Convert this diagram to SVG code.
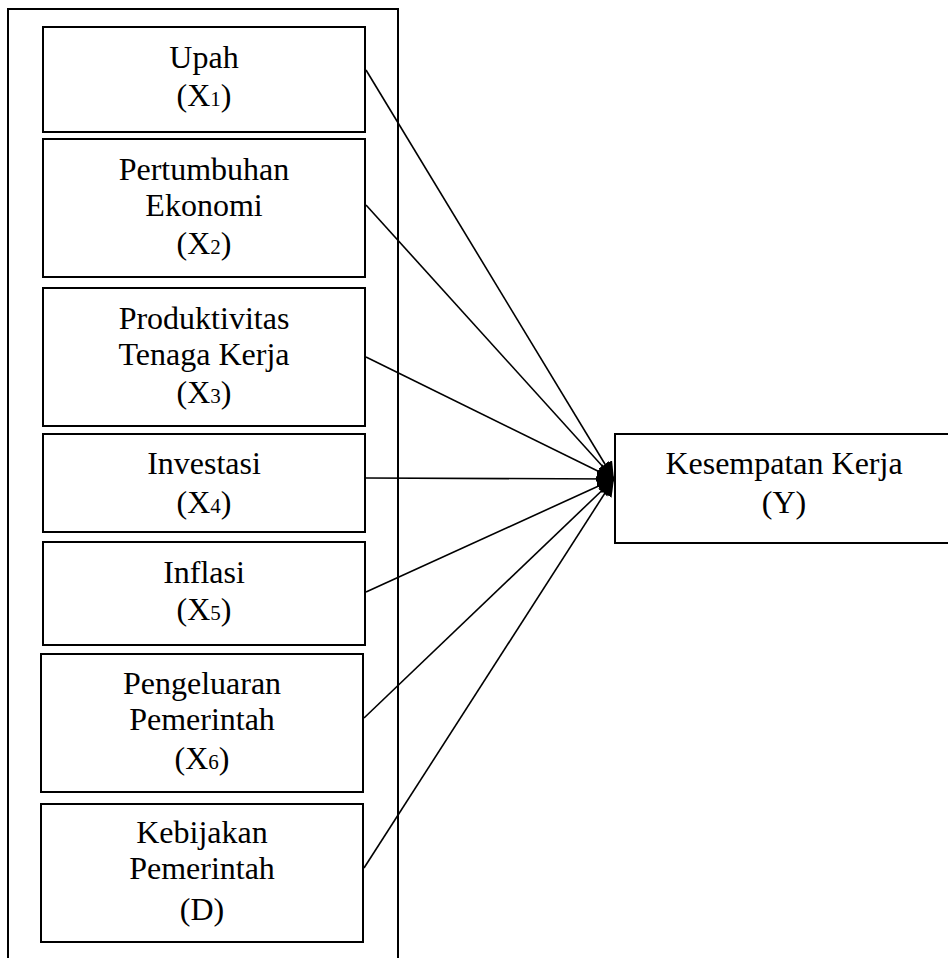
<svg xmlns="http://www.w3.org/2000/svg" width="948" height="958" viewBox="0 0 948 958">
<style>
.box{fill:#fff;stroke:#000;stroke-width:2}
.t{font-family:"Liberation Serif","Times New Roman",serif;font-size:32px;fill:#000;text-anchor:middle}
.s{font-size:21px}
.c{stroke:#000;stroke-width:1.6;fill:none;marker-end:url(#ah)}
</style>
<defs>
<marker id="ah" markerUnits="userSpaceOnUse" markerWidth="22" markerHeight="20" refX="17" refY="8" orient="auto">
<path d="M0,0 L17,8 L0,16 Z" fill="#000"/>
</marker>
</defs>
<rect x="8" y="9" width="390" height="970" fill="#fff" stroke="#000" stroke-width="2"/>
<g id="upah">
<rect class="box" x="43" y="27" width="322" height="105"/>
<text class="t" x="204" y="68">Upah</text>
<text class="t" x="204" y="106">(X<tspan class="s">1</tspan>)</text>
</g>
<g id="pertumbuhan">
<rect class="box" x="43" y="139" width="322" height="138"/>
<text class="t" x="204" y="180">Pertumbuhan</text>
<text class="t" x="204" y="216">Ekonomi</text>
<text class="t" x="204" y="254">(X<tspan class="s">2</tspan>)</text>
</g>
<g id="produktivitas">
<rect class="box" x="43" y="288" width="322" height="138"/>
<text class="t" x="204" y="329">Produktivitas</text>
<text class="t" x="204" y="365">Tenaga Kerja</text>
<text class="t" x="204" y="403">(X<tspan class="s">3</tspan>)</text>
</g>
<g id="investasi">
<rect class="box" x="43" y="434" width="322" height="98"/>
<text class="t" x="204" y="474">Investasi</text>
<text class="t" x="204" y="513">(X<tspan class="s">4</tspan>)</text>
</g>
<g id="inflasi">
<rect class="box" x="43" y="542" width="322" height="103"/>
<text class="t" x="204" y="583">Inflasi</text>
<text class="t" x="204" y="620">(X<tspan class="s">5</tspan>)</text>
</g>
<g id="pengeluaran">
<rect class="box" x="41" y="654" width="322" height="138"/>
<text class="t" x="202" y="694">Pengeluaran</text>
<text class="t" x="202" y="730">Pemerintah</text>
<text class="t" x="202" y="769">(X<tspan class="s">6</tspan>)</text>
</g>
<g id="kebijakan">
<rect class="box" x="41" y="804" width="322" height="138"/>
<text class="t" x="202" y="843">Kebijakan</text>
<text class="t" x="202" y="879">Pemerintah</text>
<text class="t" x="202" y="920">(D)</text>
</g>
<g id="kesempatan">
<rect class="box" x="615" y="434" width="345" height="109"/>
<text class="t" x="784" y="474">Kesempatan Kerja</text>
<text class="t" x="784" y="513">(Y)</text>
</g>
<g id="connectors">
<line class="c" x1="366" y1="70" x2="614" y2="479"/>
<line class="c" x1="366" y1="205" x2="614" y2="479"/>
<line class="c" x1="366" y1="357" x2="614" y2="479"/>
<line class="c" x1="366" y1="478" x2="614" y2="479"/>
<line class="c" x1="366" y1="592" x2="614" y2="479"/>
<line class="c" x1="364" y1="718" x2="614" y2="479"/>
<line class="c" x1="364" y1="868" x2="614" y2="479"/>
</g>
</svg>
